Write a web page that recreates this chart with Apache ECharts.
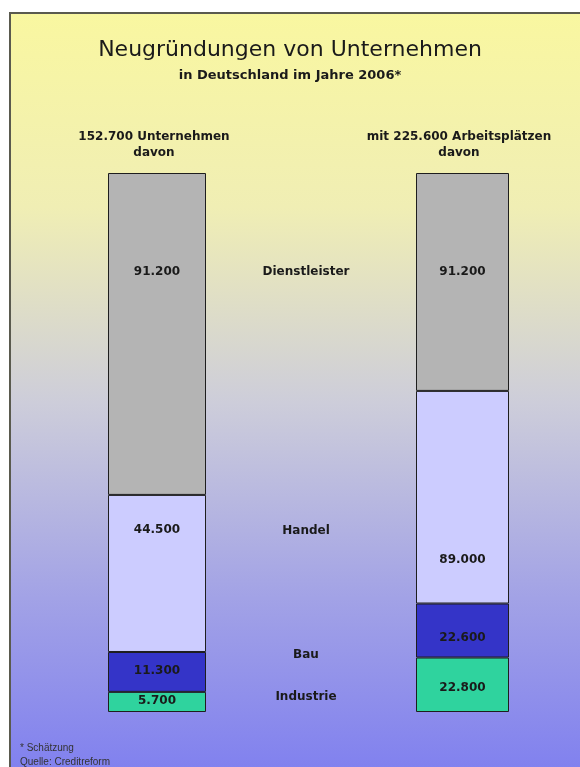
<!DOCTYPE html>
<html>
<head>
<meta charset="utf-8">
<script src="https://cdn.jsdelivr.net/npm/echarts@6/dist/echarts.min.js"></script>
<style>
html,body{margin:0;padding:0;background:#fff;}
#chart{width:580px;height:767px;}
</style>
</head>
<body>
<div id="chart"></div>
<script>
// ---- data ----
const categories = ['Dienstleister', 'Handel', 'Bau', 'Industrie'];
const unternehmen = [91200, 44500, 11300, 5700];
const arbeitsplaetze = [91200, 89000, 22600, 22800];
const titleText = 'Neugründungen von Unternehmen';
const subtitleText = 'in Deutschland im Jahre 2006*';
const footnotes = ['* Schätzung', 'Quelle: Creditreform'];

// ---- helpers ----
const fmt = v => String(v).replace(/\B(?=(\d{3})+(?!\d))/g, '.');
const sum = a => a.reduce((s, v) => s + v, 0);
const totalU = sum(unternehmen);
const totalA = sum(arbeitsplaetze);

const colors = {
  'Dienstleister': '#b4b4b4',
  'Handel': '#ccccff',
  'Bau': '#3434c8',
  'Industrie': '#2fd39e'
};
const font = 'Liberation Sans, Arial, sans-serif';
const boldFont = 'DejaVu Sans, sans-serif';
const valueLabel = {
  show: true,
  color: '#1a1a1a',
  fontFamily: boldFont,
  fontWeight: 'bold',
  fontSize: 12,
  formatter: p => fmt(p.value)
};
// label placement per bar (style only)
const labelPlacement = [
  { // left bar
    'Dienstleister': { position: 'insideTop', distance: 93 },
    'Handel': { position: 'insideTop', distance: 29 },
    'Bau': { position: 'inside', offset: [0, -1] },
    'Industrie': { position: 'inside', offset: [0, -1] }
  },
  { // right bar
    'Dienstleister': { position: 'insideTop', distance: 93 },
    'Handel': { position: 'insideBottom', distance: 38 },
    'Bau': { position: 'inside', offset: [0, 7] },
    'Industrie': { position: 'inside', offset: [0, 3] }
  }
];

const barSets = [unternehmen, arbeitsplaetze];
const series = [];
barSets.forEach((vals, gi) => {
  // stack from bottom: Industrie first
  for (let i = categories.length - 1; i >= 0; i--) {
    const name = categories[i];
    series.push({
      type: 'bar',
      name: name,
      xAxisIndex: gi,
      yAxisIndex: gi,
      stack: 'g' + gi,
      barWidth: '100%',
      data: [vals[i]],
      itemStyle: { color: colors[name], borderColor: '#1e1e1e', borderWidth: 1 },
      label: Object.assign({}, valueLabel, labelPlacement[gi][name]),
      emphasis: { disabled: true },
      animation: false
    });
  }
});

const hiddenAxis = {
  axisLine: { show: false }, axisTick: { show: false },
  axisLabel: { show: false }, splitLine: { show: false }
};

// middle category labels (text annotations)
const midY = { 'Dienstleister': 272, 'Handel': 531, 'Bau': 655, 'Industrie': 697 };
const midLabels = categories.map(c => ({
  type: 'text', x: 306, y: midY[c], z: 10,
  style: { text: c, fontFamily: boldFont, fontWeight: 'bold', fontSize: 12,
    fill: '#1a1a1a', textAlign: 'center', textVerticalAlign: 'middle' }
}));

const option = {
  backgroundColor: '#ffffff',
  animation: false,
  title: {
    text: titleText,
    subtext: subtitleText,
    left: 'center',
    top: 34,
    itemGap: 8,
    textStyle: { fontFamily: 'DejaVu Sans', fontSize: 22, fontWeight: 'normal', color: '#1a1a1a' },
    subtextStyle: { fontFamily: boldFont, fontSize: 13, fontWeight: 'bold', color: '#1a1a1a' }
  },
  grid: [
    { left: 108, width: 98, top: 173, bottom: 55 },
    { left: 416, width: 93, top: 173, bottom: 55 }
  ],
  xAxis: [
    Object.assign({ type: 'category', gridIndex: 0, data: ['Unternehmen'] }, hiddenAxis),
    Object.assign({ type: 'category', gridIndex: 1, data: ['Arbeitsplätze'] }, hiddenAxis)
  ],
  yAxis: [
    Object.assign({ type: 'value', gridIndex: 0, min: 0, max: totalU }, hiddenAxis),
    Object.assign({ type: 'value', gridIndex: 1, min: 0, max: totalA }, hiddenAxis)
  ],
  graphic: [
    {
      type: 'rect', z: -10, silent: true,
      shape: { x: 10, y: 13, width: 590, height: 780 },
      style: {
        fill: {
          type: 'linear', x: 0, y: 0, x2: 0, y2: 1,
          colorStops: [
            { offset: 0, color: '#f9f7a0' },
            { offset: 0.25, color: '#f0eeb4' },
            { offset: 0.5, color: '#cdcdda' },
            { offset: 0.75, color: '#a2a2e6' },
            { offset: 1, color: '#7c7cf0' }
          ]
        },
        stroke: '#5a5a4e', lineWidth: 2
      }
    },
    {
      type: 'text', x: 154, y: 145, z: 10,
      style: { text: fmt(totalU) + ' Unternehmen\ndavon', fontFamily: boldFont, fontWeight: 'bold',
        fontSize: 12, lineHeight: 16, fill: '#1a1a1a', textAlign: 'center', textVerticalAlign: 'middle' }
    },
    {
      type: 'text', x: 459, y: 145, z: 10,
      style: { text: 'mit ' + fmt(totalA) + ' Arbeitsplätzen\ndavon', fontFamily: boldFont, fontWeight: 'bold',
        fontSize: 12, lineHeight: 16, fill: '#1a1a1a', textAlign: 'center', textVerticalAlign: 'middle' }
    },
    ...midLabels,
    {
      type: 'text', x: 20, y: 748, z: 10,
      style: { text: footnotes[0], fontFamily: font, fontSize: 10, fill: '#333',
        textAlign: 'left', textVerticalAlign: 'middle' }
    },
    {
      type: 'text', x: 20, y: 762, z: 10,
      style: { text: footnotes[1], fontFamily: font, fontSize: 10, fill: '#333',
        textAlign: 'left', textVerticalAlign: 'middle' }
    }
  ],
  series: series
};

const chart = echarts.init(document.getElementById('chart'), null, { renderer: 'canvas' });
chart.setOption(option);
</script>
</body>
</html>
